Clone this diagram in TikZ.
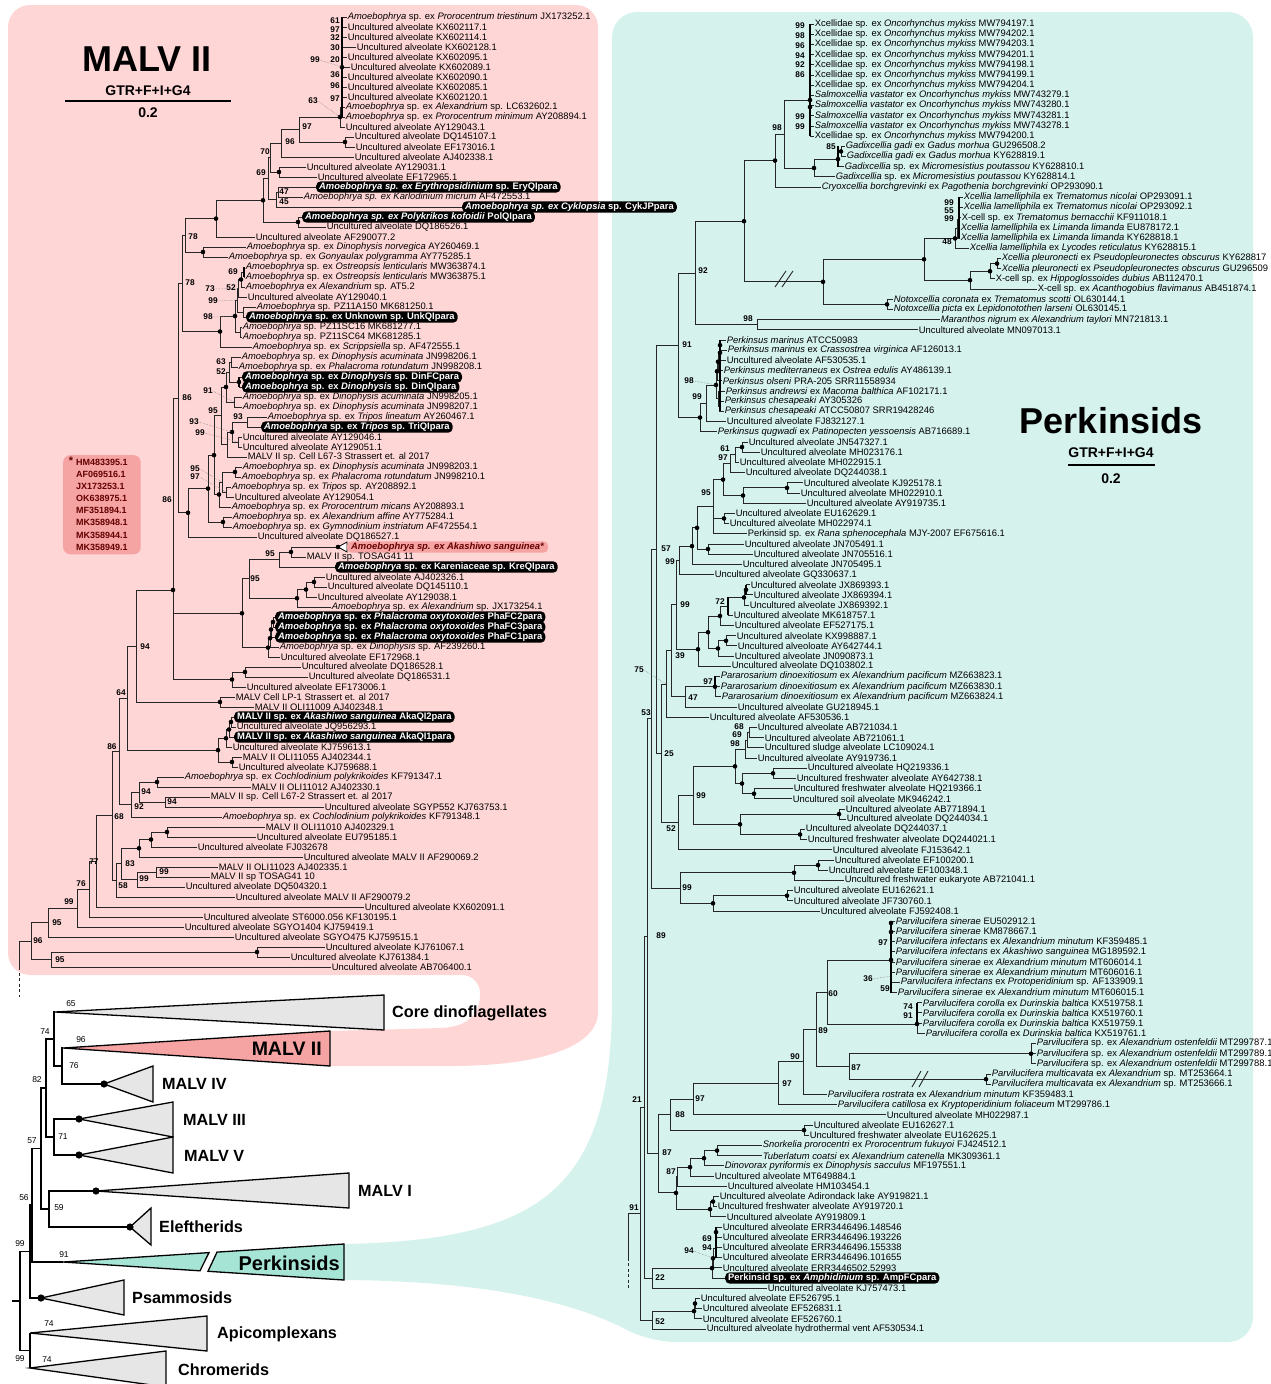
\documentclass[tikz,border=0pt]{standalone}
\usepackage{fontspec}
\setmainfont{Liberation Sans}
\usetikzlibrary{calc}
\definecolor{pinkbg}{RGB}{255,214,214}
\definecolor{tealbg}{RGB}{214,242,237}
\definecolor{salm}{RGB}{245,163,163}
\definecolor{tealtri}{RGB}{166,228,214}
\definecolor{graytri}{RGB}{230,230,230}
\definecolor{dred}{RGB}{100,0,0}
\newcounter{bsc}
\newcommand\UA{Uncultured alveolate}
\newcommand\Am{\textit{Amoebophrya}}
\newcommand\Xc[1]{Xcellidae sp. ex \textit{Oncorhynchus mykiss} #1}
\newcommand\Sv[1]{\textit{Salmoxcellia vastator} ex \textit{Oncorhynchus mykiss} #1}
\newcommand\Pd[1]{\textit{Pararosarium dinoexitiosum} ex \textit{Alexandrium pacificum} #1}
\newcommand\Pc[1]{\textit{Parvilucifera corolla} ex \textit{Durinskia baltica} #1}
\newcommand\Lf[3]{\coordinate (a#1) at (#2,{7+10*#1}); \node[lf] (a#1t) at (a#1) {#3};}
\newcommand\Lh[3]{\coordinate (a#1) at (#2,{7+10*#1}); \node[hl] (a#1t) at (a#1) {#3};}
\newcommand\Rf[3]{\coordinate (b#1) at (#2,{13.805+10.195*#1}); \node[lf] (b#1t) at (b#1) {#3};}
\newcommand\Rh[3]{\coordinate (b#1) at (#2,{13.805+10.195*#1}); \node[hl] (b#1t) at (b#1) {#3};}
\newcommand\Nd[4]{\path let \p1=(#3), \p2=(#4) in coordinate (#1) at ({#2*1pt},{0.5*\y1+0.5*\y2});}
\newcommand\Ed[2]{\foreach \ch in {#2}{\draw[br] (#1) |- (\ch);}}
\newcommand\Edc[2]{\foreach \ch in {#2}{\draw[br2] (#1) |- (\ch);}}
\newcommand\Tn[4]{\Nd{#1}{#2}{#3}{#4}\Ed{#1}{#3,#4}}
\newcommand\Dt[1]{\foreach \ch in {#1}{\fill[black] (\ch) circle (2.3pt);}}
\newcommand\Dc[1]{\foreach \ch in {#1}{\fill[black] (\ch) circle (3.6pt);}}
\newcommand\Bl[3]{\stepcounter{bsc}\node[bsl] (bs\arabic{bsc}) at (#1,#2) {#3};}
\newcommand\Sl[3]{\stepcounter{bsc}\node[sl] (sl\arabic{bsc}) at (#1,#2) {#3};}
\begin{document}
\begin{tikzpicture}[x=1pt,y=-1pt,
 lf/.style={anchor=west,inner sep=0.6pt,font=\fontsize{9.4}{10}\selectfont},
 hl/.style={anchor=west,inner xsep=3pt,inner ysep=1.3pt,fill=black,text=white,rounded corners=4.5pt,font=\bfseries\fontsize{9.4}{10}\selectfont},
 akab/.style={anchor=west,inner xsep=4pt,inner ysep=1.3pt,fill=salm,text=dred,rounded corners=4.5pt,font=\bfseries\fontsize{9.4}{10}\selectfont},
 br/.style={draw=black!85,line width=0.9pt},
 br2/.style={draw=black,line width=1.3pt},
 thk/.style={draw=black,line width=1.7pt},
 bsl/.style={inner sep=0pt,font=\bfseries\fontsize{8.3}{9}\selectfont},
 lead/.style={draw=black!50,densely dotted,line width=0.5pt},
 tri/.style={draw=black,line width=1.3pt,line join=miter},
 cl/.style={anchor=west,inner sep=0pt,font=\bfseries\fontsize{16.2}{17}\selectfont},
 sl/.style={inner sep=0pt,font=\fontsize{8.5}{9}\selectfont}]
\useasboundingbox (0,0) rectangle (1271,1384);
% ---------- backgrounds
\fill[pinkbg] (300,5) [rounded corners=22pt] -- (598,5) -- (598,990) [sharp corners] .. controls (598,1045) and (545,1066) .. (450,1066) -- (330,1066) -- (330,1031) -- (440,1028) .. controls (472,1027) and (480,1010) .. (480,995) [rounded corners=18pt] -- (480,975) [rounded corners=22pt] -- (8,975) -- (8,5) -- cycle;
\fill[tealbg] (344,1244) .. controls (540,1240) and (612,1190) .. (612,1000) [rounded corners=25pt] -- (612,12) -- (1253,12) -- (1253,1342) -- (650,1342) [sharp corners] .. controls (570,1300) and (480,1281) .. (344,1280) -- cycle;
% ---------- titles
\node[font=\bfseries\fontsize{36}{36}\selectfont,inner sep=0] (tL) at (147,59) {MALV II};
\node[font=\bfseries\fontsize{14}{14}\selectfont,inner sep=0] (gL) at (148,91) {GTR+F+I+G4};
\draw[line width=1.8pt] (65,101) -- (231,101);
\node[font=\bfseries\fontsize{14}{14}\selectfont,inner sep=0] (sL) at (148,113) {0.2};
\node[font=\bfseries\fontsize{36}{36}\selectfont,inner sep=0] (tR) at (1111,421) {Perkinsids};
\node[font=\bfseries\fontsize{14}{14}\selectfont,inner sep=0] (gR) at (1111,453) {GTR+F+I+G4};
\draw[line width=1.8pt] (1068,465) -- (1155,465);
\node[font=\bfseries\fontsize{14}{14}\selectfont,inner sep=0] (sR) at (1111,479) {0.2};
% ---------- asterisk box
\node[anchor=north west,fill=salm,rounded corners=7pt,align=left,inner xsep=13pt,inner ysep=4pt,text=dred,font=\bfseries\fontsize{9}{12.1}\selectfont] (astbox) at (63,455) {HM483395.1\\AF069516.1\\JX173253.1\\OK638975.1\\MF351894.1\\MK358948.1\\MK358944.1\\MK358949.1};
\node[font=\bfseries\fontsize{11}{11}\selectfont,text=dred,inner sep=0] (astr) at (71,461) {*};
% ================= LEFT TREE leaves
\Lf{1}{347}{\Am{} sp. ex \textit{Prorocentrum triestinum} JX173252.1}
\Lf{2}{347}{\UA{} KX602117.1}
\Lf{3}{347}{\UA{} KX602114.1}
\Lf{4}{356}{\UA{} KX602128.1}
\Lf{5}{347}{\UA{} KX602095.1}
\Lf{6}{350}{\UA{} KX602089.1}
\Lf{7}{347}{\UA{} KX602090.1}
\Lf{8}{347}{\UA{} KX602085.1}
\Lf{9}{347}{\UA{} KX602120.1}
\Lf{10}{345}{\Am{} sp. ex \textit{Alexandrium} sp. LC632602.1}
\Lf{11}{345}{\Am{} sp. ex \textit{Prorocentrum minimum} AY208894.1}
\Lf{12}{345}{\UA{} AY129043.1}
\Lf{13}{354}{\UA{} DQ145107.1}
\Lf{14}{355}{\UA{} EF173016.1}
\Lf{15}{354}{\UA{} AJ402338.1}
\Lf{16}{306}{\UA{} AY129031.1}
\Lf{17}{317}{\UA{} EF172965.1}
\Lh{18}{316}{\textit{Amoebophrya sp. ex Erythropsidinium} sp. EryQIpara}
\Lf{19}{303}{\textit{Amoebophrya sp. ex Karlodinium micrum} AF472553.1}
\Lh{20}{462}{\textit{Amoebophrya sp. ex Cyklopsia} sp. CykJPpara}
\Lh{21}{302}{\textit{Amoebophrya sp. ex Polykrikos kofoidii} PolQIpara}
\Lf{22}{326}{\UA{} DQ186526.1}
\Lf{23}{255}{\UA{} AF290077.2}
\Lf{24}{246}{\Am{} sp. ex \textit{Dinophysis norvegica} AY260469.1}
\Lf{25}{228}{\Am{} sp. ex \textit{Gonyaulax polygramma} AY775285.1}
\Lf{26}{245}{\Am{} sp. ex \textit{Ostreopsis lenticularis} MW363874.1}
\Lf{27}{245}{\Am{} sp. ex \textit{Ostreopsis lenticularis} MW363875.1}
\Lf{28}{245}{\Am{} ex \textit{Alexandrium} sp. AT5.2}
\Lf{29}{247}{\UA{} AY129040.1}
\Lf{30}{256}{\Am{} sp. PZ11A150 MK681250.1}
\Lh{31}{246}{\Am{} sp. ex Unknown sp. UnkQIpara}
\Lf{32}{242}{\Am{} sp. PZ11SC16 MK681277.1}
\Lf{33}{242}{\Am{} sp. PZ11SC64 MK681285.1}
\Lf{34}{252}{\Am{} sp. ex \textit{Scrippsiella} sp. AF472555.1}
\Lf{35}{241}{\Am{} sp. ex \textit{Dinophysis acuminata} JN998206.1}
\Lf{36}{238}{\Am{} sp. ex \textit{Phalacroma rotundatum} JN998208.1}
\Lh{37}{242}{\Am{} sp. ex \textit{Dinophysis} sp. DinFCpara}
\Lh{38}{242}{\Am{} sp. ex \textit{Dinophysis} sp. DinQIpara}
\Lf{39}{242}{\Am{} sp. ex \textit{Dinophysis acuminata} JN998205.1}
\Lf{40}{242}{\Am{} sp. ex \textit{Dinophysis acuminata} JN998207.1}
\Lf{41}{267}{\Am{} sp. ex \textit{Tripos lineatum} AY260467.1}
\Lh{42}{261}{\Am{} sp. ex \textit{Tripos} sp. TriQIpara}
\Lf{43}{242}{\UA{} AY129046.1}
\Lf{44}{242}{\UA{} AY129051.1}
\Lf{45}{247}{MALV II sp. Cell L67-3 Strassert et. al 2017}
\Lf{46}{242}{\Am{} sp. ex \textit{Dinophysis acuminata} JN998203.1}
\Lf{47}{241}{\Am{} sp. ex \textit{Phalacroma rotundatum} JN998210.1}
\Lf{48}{231}{\Am{} sp. ex \textit{Tripos} sp. AY208892.1}
\Lf{49}{234}{\UA{} AY129054.1}
\Lf{50}{231}{\Am{} sp. ex \textit{Prorocentrum micans} AY208893.1}
\Lf{51}{232}{\Am{} sp. ex \textit{Alexandrium affine} AY775284.1}
\Lf{52}{232}{\Am{} sp. ex \textit{Gymnodinium instriatum} AF472554.1}
\Lf{53}{257}{\UA{} DQ186527.1}
\coordinate (a54) at (338,547);
\coordinate (a54b) at (347,547);
\filldraw[fill=white,draw=black,line width=0.8pt] (a54) -- (347,542) -- (347,552) -- cycle;
\node[akab] (a54t) at (a54b) {\textit{Amoebophrya sp. ex Akashiwo sanguinea*}};
\Lf{55}{306}{MALV II sp. TOSAG41 11}
\Lh{56}{335}{\Am{} sp. ex Kareniaceae sp. KreQIpara}
\Lf{57}{325}{\UA{} AJ402326.1}
\Lf{58}{327}{\UA{} DQ145110.1}
\Lf{59}{317}{\UA{} AY129038.1}
\Lf{60}{331}{\Am{} sp. ex \textit{Alexandrium} sp. JX173254.1}
\Lh{61}{275}{\Am{} sp. ex \textit{Phalacroma oxytoxoides} PhaFC2para}
\Lh{62}{275}{\Am{} sp. ex \textit{Phalacroma oxytoxoides} PhaFC3para}
\Lh{63}{275}{\Am{} sp. ex \textit{Phalacroma oxytoxoides} PhaFC1para}
\Lf{64}{279}{\Am{} sp. ex \textit{Dinophysis} sp. AF239260.1}
\Lf{65}{280}{\UA{} EF172968.1}
\Lf{66}{301}{\UA{} DQ186528.1}
\Lf{67}{308}{\UA{} DQ186531.1}
\Lf{68}{246}{\UA{} EF173006.1}
\Lf{69}{235}{MALV Cell LP-1 Strassert et. al 2017}
\Lf{70}{254}{MALV II OLI11009 AJ402348.1}
\Lh{71}{234}{MALV II sp. ex \textit{Akashiwo sanguinea} AkaQI2para}
\Lf{72}{236}{\UA{} JQ956293.1}
\Lh{73}{234}{MALV II sp. ex \textit{Akashiwo sanguinea} AkaQI1para}
\Lf{74}{232}{\UA{} KJ759613.1}
\Lf{75}{242}{MALV II OLI11055 AJ402344.1}
\Lf{76}{238}{\UA{} KJ759688.1}
\Lf{77}{184}{\Am{} sp. ex \textit{Cochlodinium polykrikoides} KF791347.1}
\Lf{78}{251}{MALV II OLI11012 AJ402330.1}
\Lf{79}{210}{MALV II sp. Cell L67-2 Strassert et. al 2017}
\Lf{80}{324}{\UA{} SGYP552 KJ763753.1}
\Lf{81}{222}{\Am{} sp. ex \textit{Cochlodinium polykrikoides} KF791348.1}
\Lf{82}{265}{MALV II OLI11010 AJ402329.1}
\Lf{83}{256}{\UA{} EU795185.1}
\Lf{84}{197}{\UA{} FJ032678}
\Lf{85}{303}{\UA{} MALV II AF290069.2}
\Lf{86}{218}{MALV II OLI11023 AJ402335.1}
\Lf{87}{210}{MALV II sp TOSAG41 10}
\Lf{88}{185}{\UA{} DQ504320.1}
\Lf{89}{235}{\UA{} MALV II AF290079.2}
\Lf{90}{364}{\UA{} KX602091.1}
\Lf{91}{203}{\UA{} ST6000.056 KF130195.1}
\Lf{92}{184}{\UA{} SGYO1404 KJ759419.1}
\Lf{93}{234}{\UA{} SGYO475 KJ759515.1}
\Lf{94}{325}{\UA{} KJ761067.1}
\Lf{95}{290}{\UA{} KJ761384.1}
\Lf{96}{331}{\UA{} AB706400.1}
% ---------- left internal nodes
\Tn{t1}{342}{a1}{a2}
\Tn{t2}{342}{t1}{a3}
\Tn{t3}{342}{t2}{a4}
\Tn{t4}{342}{t3}{a5}
\Tn{t5}{342}{t4}{a6}
\Tn{t6}{342}{t5}{a7}
\Tn{t7}{342}{t6}{a8}
\Tn{t8}{342}{t7}{a9}
\Tn{t9}{342}{t8}{a10}
\Tn{t10}{342}{t9}{a11}
\Tn{t11}{340}{t10}{a12}
\Tn{n13}{345}{a13}{a14}
\Tn{n97}{299}{t11}{n13}
\Tn{n96}{281}{n97}{a15}
\Tn{n1617}{279}{a16}{a17}
\Tn{n70}{270}{n96}{n1617}
\Tn{n47}{278}{a18}{a19}
\Tn{n45}{276}{n47}{a20}
\Tn{n69}{268}{n70}{n45}
\Tn{nPol}{298}{a21}{a22}
\Tn{nD263}{263}{n69}{nPol}
\Tn{n216}{216}{nD263}{a23}
\Tn{nDN}{203}{a24}{a25}
\Tn{n78a}{185}{n216}{nDN}
\Tn{nOst}{244}{a26}{a27}
\Tn{n52}{241}{nOst}{a28}
\Tn{n73}{238}{n52}{a29}
\Tn{n3031}{243}{a30}{a31}
\Tn{n99o}{237}{n73}{n3031}
\Tn{nPZ}{240}{a32}{a33}
\Tn{n98o}{235}{n99o}{nPZ}
\Tn{n220}{220}{n98o}{a34}
\Tn{n78b}{182}{n78a}{n220}
\Tn{nDinA}{231}{a35}{a36}
\Tn{nDinB}{239}{a37}{a38}
\Tn{n63}{229}{nDinA}{nDinB}
\Tn{n3940}{234}{a39}{a40}
\Tn{n91L}{226}{n63}{n3940}
\Tn{n93}{247}{a41}{a42}
\Tn{n4344}{238}{a43}{a44}
\Tn{nTri}{232}{n93}{n4344}
\Tn{n99b}{227}{nTri}{a45}
\Tn{n95a}{221}{n91L}{n99b}
\Tn{n4647}{235}{a46}{a47}
\Tn{n4849}{226}{a48}{a49}
\Tn{n95b}{222}{n4647}{n4849}
\Tn{n97b}{219}{n95b}{a50}
\Tn{n215}{214}{n95a}{n97b}
\Tn{n5152}{223}{a51}{a52}
\Tn{n208}{208}{n215}{n5152}
\Tn{n188}{188}{n208}{a53}
\Tn{Q}{178}{n78b}{n188}
\Tn{n283}{291}{a54}{a55}
\Tn{n95c}{279}{n283}{a56}
\Tn{n305}{314}{a57}{a58}
\Tn{n297}{306}{n305}{a59}
\Tn{n288}{297}{n297}{a60}
\Tn{n95d}{249}{n95c}{n288}
\Tn{nPa}{273}{a61}{a62}
\Tn{nPb}{271}{nPa}{a63}
\Tn{nPc}{270}{nPb}{a64}
\Tn{nPd}{268}{nPc}{a65}
\Tn{nK}{242}{n95d}{nPd}
\Tn{n6667}{245}{a66}{a67}
\Tn{nE}{232}{n6667}{a68}
\coordinate (n172) at (173,590); \Ed{n172}{Q,nK,nE}
\Tn{nLP}{220}{a69}{a70}
\Tn{n94}{136}{n172}{nLP}
\Tn{n7172}{231}{a71}{a72}
\Tn{n73x}{229}{n7172}{a73}
\Tn{n74x}{226}{n73x}{a74}
\Tn{n7576}{232}{a75}{a76}
\Tn{nAka}{218}{n74x}{n7576}
\Tn{n64}{127}{n94}{nAka}
\Tn{nCoch}{157}{a77}{a78}
\Tn{n94c}{165}{a79}{a80}
\Tn{n94b}{139}{nCoch}{n94c}
\Tn{n92}{131}{n94b}{a81}
\Tn{n86c}{119}{n64}{n92}
\Tn{n8283}{167}{a82}{a83}
\Tn{n84x}{151}{n8283}{a84}
\Tn{n85x}{139}{n84x}{a85}
\Tn{n8687}{156}{a86}{a87}
\Tn{n99d}{137}{n8687}{a88}
\Tn{n83}{121}{n85x}{n99d}
\Tn{n58}{116}{n83}{a89}
\Tn{n68}{112}{n86c}{n58}
\Tn{n77}{96}{n68}{a90}
\Tn{n76}{89}{n77}{a91}
\Tn{n99e}{77}{n76}{a92}
\Tn{n95e}{48}{n99e}{a93}
\Tn{nKJ}{257}{a94}{a95}
\Tn{n95f}{51}{nKJ}{a96}
\Tn{n96}{31}{n95e}{n95f}
\draw[br] (n96) -- ++(-12,0) coordinate (lstem) -- ++(0,26) coordinate (lstem2);
\draw[br,dash pattern=on 3pt off 2.5pt] (lstem2) -- ++(0,30);
\draw[thk] (t1 |- a1) -- (t1 |- a11);
\draw[thk] (nOst |- a26) -- (nOst |- a27);
\draw[thk] (nDinB |- a37) -- (nDinB |- a38);
\Dt{t6,t11,n13,n1617,nD263,nPol,n216,nDN,n52,n98o,n220,nDinB,n91L,nTri,n4647,n97b,n215,n5152,n208,n188,a54,n283,n305,n297,n288,nPa,nPb,nPc,nPd,nK,n6667,nE,n172,nLP,n7172,n73x,n74x,n7576,nAka,nCoch,n8283,n84x,n85x,nKJ}
% left labels
\Bl{335}{21}{61}\Bl{335}{29.5}{97}\Bl{335}{38}{32}\Bl{335}{48}{30}\Bl{335}{60}{20}\Bl{335}{75}{36}\Bl{335}{86}{96}\Bl{335}{99}{97}
\node[bsl] (lb99a) at (315,60) {99}; \draw[lead] (lb99a.east) -- (t6);
\node[bsl] (lb63a) at (313,101) {63}; \draw[lead] (lb63a.east) -- (t11);
\Bl{307}{127}{97}\Bl{290}{142}{96}\Bl{265}{152}{70}\Bl{261}{173}{69}\Bl{284}{192}{47}\Bl{284}{202}{45}\Bl{193}{237}{78}
\Bl{233}{272}{69}\Bl{190}{283}{78}\Bl{231}{288}{52}
\node[bsl] (lb73) at (210,289) {73}; \draw[lead] (lb73.east) -- (n73);
\node[bsl] (lb99o) at (213,301) {99}; \draw[lead] (lb99o.east) -- (n99o);
\node[bsl] (lb98o) at (208,317) {98}; \draw[lead] (lb98o.east) -- (n98o);
\Bl{221}{362}{63}\Bl{221}{372}{52}
\node[bsl] (lb91) at (208,391) {91}; \draw[lead] (lb91.east) -- (n3940);
\Bl{187}{398}{86}\Bl{213}{411}{95}\Bl{238}{417}{93}
\node[bsl] (lb93) at (194,422) {93}; \draw[lead] (lb93.east) -- (nTri);
\node[bsl] (lb99b) at (200,433) {99}; \draw[lead] (lb99b.east) -- (n4344);
\node[bsl] (lb95b) at (195,469) {95}; \draw[lead] (lb95b.east) -- (n95b);
\node[bsl] (lb97b) at (195,477) {97}; \draw[lead] (lb97b.east) -- (n4849);
\Bl{167}{500}{86}\Bl{270}{554}{95}\Bl{255}{579}{95}\Bl{145}{647}{94}\Bl{121}{693}{64}\Bl{112}{747}{86}
\Bl{146}{792}{94}\Bl{172}{802}{94}\Bl{139}{807}{92}\Bl{119}{817}{68}\Bl{94}{862}{77}\Bl{130}{864}{83}
\Bl{164}{872}{99}\Bl{144}{879}{99}\Bl{81}{884}{76}\Bl{123}{886}{58}\Bl{69}{902}{99}\Bl{57}{923}{95}
\Bl{38}{941}{96}\Bl{60}{960}{95}
% ================= RIGHT TREE leaves
\Rf{1}{814}{\Xc{MW794197.1}}
\Rf{2}{814}{\Xc{MW794202.1}}
\Rf{3}{814}{\Xc{MW794203.1}}
\Rf{4}{814}{\Xc{MW794201.1}}
\Rf{5}{814}{\Xc{MW794198.1}}
\Rf{6}{814}{\Xc{MW794199.1}}
\Rf{7}{814}{\Xc{MW794204.1}}
\Rf{8}{814}{\Sv{MW743279.1}}
\Rf{9}{814}{\Sv{MW743280.1}}
\Rf{10}{814}{\Sv{MW743281.1}}
\Rf{11}{814}{\Sv{MW743278.1}}
\Rf{12}{814}{\Xc{MW794200.1}}
\Rf{13}{845}{\textit{Gadixcellia gadi} ex \textit{Gadus morhua} GU296508.2}
\Rf{14}{846}{\textit{Gadixcellia gadi} ex \textit{Gadus morhua} KY628819.1}
\Rf{15}{844}{\textit{Gadixcellia} sp. ex \textit{Micromesistius poutassou} KY628810.1}
\Rf{16}{835}{\textit{Gadixcellia} sp. ex \textit{Micromesistius poutassou} KY628814.1}
\Rf{17}{821}{\textit{Cryoxcellia borchgrevinki} ex \textit{Pagothenia borchgrevinki} OP293090.1}
\Rf{18}{963}{\textit{Xcellia lamelliphila} ex \textit{Trematomus nicolai} OP293091.1}
\Rf{19}{963}{\textit{Xcellia lamelliphila} ex \textit{Trematomus nicolai} OP293092.1}
\Rf{20}{961}{X-cell sp. ex \textit{Trematomus bernacchii} KF911018.1}
\Rf{21}{960}{\textit{Xcellia lamelliphila} ex \textit{Limanda limanda} EU878172.1}
\Rf{22}{960}{\textit{Xcellia lamelliphila} ex \textit{Limanda limanda} KY628818.1}
\Rf{23}{969}{\textit{Xcellia lamelliphila} ex \textit{Lycodes reticulatus} KY628815.1}
\Rf{24}{1001}{\textit{Xcellia pleuronecti} ex \textit{Pseudopleuronectes obscurus} KY628817}
\Rf{25}{1001}{\textit{Xcellia pleuronecti} ex \textit{Pseudopleuronectes obscurus} GU296509}
\Rf{26}{995}{X-cell sp. ex \textit{Hippoglossoides dubius} AB112470.1}
\Rf{27}{1037}{X-cell sp. ex \textit{Acanthogobius flavimanus} AB451874.1}
\Rf{28}{893}{\textit{Notoxcellia coronata} ex \textit{Trematomus scotti} OL630144.1}
\Rf{29}{893}{\textit{Notoxcellia picta} ex \textit{Lepidonotothen larseni} OL630145.1}
\Rf{30}{940}{\textit{Maranthos nigrum} ex \textit{Alexandrium taylori} MN721813.1}
\Rf{31}{918}{\UA{} MN097013.1}
\Rf{32}{726}{\textit{Perkinsus marinus} ATCC50983}
\Rf{33}{727}{\textit{Perkinsus marinus} ex \textit{Crassostrea virginica} AF126013.1}
\Rf{34}{726}{\UA{} AF530535.1}
\Rf{35}{723}{\textit{Perkinsus mediterraneus} ex \textit{Ostrea edulis} AY486139.1}
\Rf{36}{722}{\textit{Perkinsus olseni} PRA-205 SRR11558934}
\Rf{37}{725}{\textit{Perkinsus andrewsi} ex \textit{Macoma balthica} AF102171.1}
\Rf{38}{724}{\textit{Perkinsus chesapeaki} AY305326}
\Rf{39}{724}{\textit{Perkinsus chesapeaki} ATCC50807 SRR19428246}
\Rf{40}{726}{\UA{} FJ832127.1}
\Rf{41}{717}{\textit{Perkinsus qugwadi} ex \textit{Patinopecten yessoensis} AB716689.1}
\Rf{42}{748}{\UA{} JN547327.1}
\Rf{43}{760}{\UA{} MH023176.1}
\Rf{44}{739}{\UA{} MH022915.1}
\Rf{45}{745}{\UA{} DQ244038.1}
\Rf{46}{803}{\UA{} KJ925178.1}
\Rf{47}{800}{\UA{} MH022910.1}
\Rf{48}{806}{\UA{} AY919735.1}
\Rf{49}{735}{\UA{} EU162629.1}
\Rf{50}{729}{\UA{} MH022974.1}
\Rf{51}{747}{Perkinsid sp. ex \textit{Rana sphenocephala} MJY-2007 EF675616.1}
\Rf{52}{744}{\UA{} JN705491.1}
\Rf{53}{753}{\UA{} JN705516.1}
\Rf{54}{742}{\UA{} JN705495.1}
\Rf{55}{714}{\UA{} GQ330637.1}
\Rf{56}{750}{\UA{} JX869393.1}
\Rf{57}{753}{\UA{} JX869394.1}
\Rf{58}{749}{\UA{} JX869392.1}
\Rf{59}{733}{\UA{} MK618757.1}
\Rf{60}{734}{\UA{} EF527175.1}
\Rf{61}{736}{\UA{} KX998887.1}
\Rf{62}{737}{Uncultured alveoloate AY642744.1}
\Rf{63}{734}{\UA{} JN090873.1}
\Rf{64}{731}{\UA{} DQ103802.1}
\Rf{65}{720}{\Pd{MZ663823.1}}
\Rf{66}{720}{\Pd{MZ663830.1}}
\Rf{67}{721}{\Pd{MZ663824.1}}
\Rf{68}{737}{\UA{} GU218945.1}
\Rf{69}{709}{\UA{} AF530536.1}
\Rf{70}{757}{\UA{} AB721034.1}
\Rf{71}{764}{\UA{} AB721061.1}
\Rf{72}{764}{Uncultured sludge alveolate LC109024.1}
\Rf{73}{757}{\UA{} AY919736.1}
\Rf{74}{807}{\UA{} HQ219336.1}
\Rf{75}{796}{Uncultured freshwater alveolate AY642738.1}
\Rf{76}{793}{Uncultured freshwater alveolate HQ219366.1}
\Rf{77}{792}{Uncultured soil alveolate MK946242.1}
\Rf{78}{845}{\UA{} AB771894.1}
\Rf{79}{846}{\UA{} DQ244034.1}
\Rf{80}{805}{\UA{} DQ244037.1}
\Rf{81}{807}{Uncultured freshwater alveolate DQ244021.1}
\Rf{82}{832}{\UA{} FJ153642.1}
\Rf{83}{834}{\UA{} EF100200.1}
\Rf{84}{828}{\UA{} EF100348.1}
\Rf{85}{844}{Uncultured freshwater eukaryote AB721041.1}
\Rf{86}{793}{\UA{} EU162621.1}
\Rf{87}{793}{\UA{} JF730760.1}
\Rf{88}{820}{\UA{} FJ592408.1}
\Rf{89}{895}{\textit{Parvilucifera sinerae} EU502912.1}
\Rf{90}{895}{\textit{Parvilucifera sinerae} KM878667.1}
\Rf{91}{895}{\textit{Parvilucifera infectans} ex \textit{Alexandrium minutum} KF359485.1}
\Rf{92}{895}{\textit{Parvilucifera infectans} ex \textit{Akashiwo sanguinea} MG189592.1}
\Rf{93}{895}{\textit{Parvilucifera sinerae} ex \textit{Alexandrium minutum} MT606014.1}
\Rf{94}{895}{\textit{Parvilucifera sinerae} ex \textit{Alexandrium minutum} MT606016.1}
\Rf{95}{900}{\textit{Parvilucifera infectans} ex \textit{Protoperidinium} sp. AF133909.1}
\Rf{96}{897}{\textit{Parvilucifera sinerae} ex \textit{Alexandrium minutum} MT606015.1}
\Rf{97}{922}{\Pc{KX519758.1}}
\Rf{98}{922}{\Pc{KX519760.1}}
\Rf{99}{922}{\Pc{KX519759.1}}
\Rf{100}{925}{\Pc{KX519761.1}}
\Rf{101}{1036}{\textit{Parvilucifera} sp. ex \textit{Alexandrium ostenfeldii} MT299787.1}
\Rf{102}{1036}{\textit{Parvilucifera} sp. ex \textit{Alexandrium ostenfeldii} MT299789.1}
\Rf{103}{1036}{\textit{Parvilucifera} sp. ex \textit{Alexandrium ostenfeldii} MT299788.1}
\Rf{104}{991}{\textit{Parvilucifera multicavata} ex \textit{Alexandrium} sp. MT253664.1}
\Rf{105}{991}{\textit{Parvilucifera multicavata} ex \textit{Alexandrium} sp. MT253666.1}
\Rf{106}{827}{\textit{Parvilucifera rostrata} ex \textit{Alexandrium minutum} KF359483.1}
\Rf{107}{837}{\textit{Parvilucifera catillosa} ex \textit{Kryptoperidinium foliaceum} MT299786.1}
\Rf{108}{886}{\UA{} MH022987.1}
\Rf{109}{813}{\UA{} EU162627.1}
\Rf{110}{809}{Uncultured freshwater alveolate EU162625.1}
\Rf{111}{762}{\textit{Snorkelia prorocentri} ex \textit{Prorocentrum fukuyoi} FJ424512.1}
\Rf{112}{762}{\textit{Tuberlatum coatsi} ex \textit{Alexandrium catenella} MK309361.1}
\Rf{113}{724}{\textit{Dinovorax pyriformis} ex \textit{Dinophysis sacculus} MF197551.1}
\Rf{114}{714}{\UA{} MT649884.1}
\Rf{115}{727}{\UA{} HM103454.1}
\Rf{116}{719}{\UA{} Adirondack lake AY919821.1}
\Rf{117}{717}{Uncultured freshwater alveolate AY919720.1}
\Rf{118}{726}{\UA{} AY919809.1}
\Rf{119}{722}{\UA{} ERR3446496.148546}
\Rf{120}{722}{\UA{} ERR3446496.193226}
\Rf{121}{722}{\UA{} ERR3446496.155338}
\Rf{122}{722}{\UA{} ERR3446496.101655}
\Rf{123}{722}{\UA{} ERR3446502.52993}
\Rh{124}{725}{Perkinsid sp. ex \textit{Amphidinium} sp. AmpFCpara}
\Rf{125}{767}{\UA{} KJ757473.1}
\Rf{126}{700}{\UA{} EF526795.1}
\Rf{127}{702}{\UA{} EF526831.1}
\Rf{128}{702}{\UA{} EF526760.1}
\Rf{129}{706}{\UA{} hydrothermal vent AF530534.1}
% ---------- right internal nodes
\coordinate (rXc) at (810,100); \coordinate (rXc2) at (810,107);
\Ed{rXc}{b1,b2,b3,b4,b5,b6,b7,b8,b9,b10,b11,b12}
\Tn{rGad3}{841}{b13}{b14}
\Tn{rGad2}{838}{rGad3}{b15}
\Tn{rGad}{814}{rGad2}{b16}
\Tn{r98}{784}{rXc}{rGad}
\Tn{rCry}{775}{r98}{b17}
\Tn{rXa}{959}{b18}{b19}
\Tn{rXb}{959}{rXa}{b20}
\Tn{rXcc}{958}{rXb}{b21}
\Tn{rXd}{957}{rXcc}{b22}
\Tn{rXe}{955}{rXd}{b23}
\Tn{rXP3}{997}{b24}{b25}
\Tn{rXP2}{990}{rXP3}{b26}
\Tn{rXP}{970}{rXP2}{b27}
\Tn{rXL}{924}{rXe}{rXP}
\Tn{rNoto}{887}{b28}{b29}
\Tn{rX2}{823}{rXL}{rNoto}
\Tn{r257}{744}{rCry}{rX2}
\Tn{r98b}{757}{b30}{b31}
\Tn{r92}{695}{r257}{r98b}
\Tn{p1}{720}{b32}{b33}
\Tn{p2}{720}{p1}{b34}
\Tn{p3}{718}{p2}{b35}
\Tn{p4}{717}{p3}{b36}
\Tn{p5a}{719}{b38}{b39}
\Tn{p5}{718}{b37}{p5a}
\Tn{p6}{716}{p4}{p5}
\Tn{rPk2}{706}{p6}{b40}
\Tn{r99p}{700}{rPk2}{b41}
\Tn{r91}{678}{r92}{r99p}
\Tn{r61}{742}{b42}{b43}
\Tn{r97}{735}{r61}{b44}
\Tn{r97b}{730}{r97}{b45}
\Tn{rKJ}{787}{b46}{b47}
\Tn{rKJ2}{743}{rKJ}{b48}
\Tn{r95x}{723}{r97b}{rKJ2}
\Tn{rEU}{724}{b49}{b50}
\Nd{r95}{713}{r95x}{b51}\Ed{r95}{r95x,rEU,b51}
\Tn{rJN}{708}{b52}{b53}
\Tn{r141}{697}{r95}{rJN}
\Tn{r128}{692}{r141}{b54}
\Tn{r99q}{679}{r128}{b55}
\Tn{rJXa}{746}{b56}{b57}
\Tn{rJXb}{744}{rJXa}{b58}
\Tn{r72}{728}{rJXb}{b59}
\Tn{rMK}{720}{r72}{b60}
\Tn{rKX}{726}{b61}{b62}
\Tn{rKX2}{718}{rKX}{b63}
\Tn{r211}{708}{rMK}{rKX2}
\Tn{r188}{698}{r211}{b64}
\Tn{r99r}{676}{r99q}{r188}
\Nd{rPara}{715}{b65}{b67}\Ed{rPara}{b65,b66,b67}
\Tn{r47}{685}{rPara}{b68}
\Tn{r39}{671}{r99r}{r47}
\Tn{r75}{666}{r39}{b69}
\Tn{rAB1}{749}{b70}{b71}
\Tn{rAB2}{747}{rAB1}{b72}
\Tn{rAB3}{745}{rAB2}{b73}
\Tn{rHQ}{773}{b74}{b75}
\Tn{rHQ2}{754}{b76}{b77}
\Tn{rHQ3}{742}{rHQ}{rHQ2}
\Tn{rAB4}{735}{rAB3}{rHQ3}
\Tn{rAB77}{839}{b78}{b79}
\Tn{rDQ}{800}{b80}{b81}
\Tn{rAB5}{740}{rAB77}{rDQ}
\Tn{r99s}{693}{rAB4}{rAB5}
\Tn{r52}{678}{r99s}{b82}
\Tn{r25}{661}{r75}{r52}
\Tn{r57}{656}{r91}{r25}
\Tn{rEFa}{818}{b83}{b84}
\Tn{rEF2}{794}{rEFa}{b85}
\Tn{rEU62}{787}{b86}{b87}
\Tn{rEU63}{713}{rEU62}{b88}
\Tn{r99t}{680}{rEF2}{rEU63}
\Tn{r53}{651}{r57}{r99t}
\coordinate (rPs) at (891,960); \coordinate (rPsA) at (891,923); \coordinate (rPsB) at (891,932); \coordinate (rPs36) at (891,976);
\Ed{rPs}{b89,b90,b91,b92,b93,b94,b95,b96}
\coordinate (rCor) at (917,1024);
\Ed{rCor}{b97,b98,b99,b100}
\Tn{r60}{827}{rPs}{rCor}
\Nd{rMT}{1031}{b101}{b103}\Ed{rMT}{b101,b102,b103}
\Tn{rMul}{986}{b104}{b105}
\Tn{r87b}{849}{rMT}{rMul}
\Tn{r89b}{816}{r60}{r87b}
\Tn{r97c}{803}{r89b}{b106}
\Tn{r90}{778}{r97c}{b107}
\Tn{rX97}{693}{r90}{b108}
\Tn{rEU627}{804}{b109}{b110}
\Tn{r88}{670}{rX97}{rEU627}
\Tn{rSno}{717}{b111}{b112}
\Tn{rSno2}{704}{rSno}{b113}
\Tn{rSno3}{690}{rSno2}{b114}
\Tn{r87c}{677}{rSno3}{b115}
\Tn{rAdi}{713}{b116}{b117}
\Tn{rAdi2}{710}{rAdi}{b118}
\Tn{r87d}{676}{r87c}{rAdi2}
\Tn{r87a}{658}{r88}{r87d}
\Tn{r89}{647}{r53}{r87a}
\Tn{e1}{716}{b119}{b120}
\Tn{e2}{716}{e1}{b121}
\Tn{e3}{715}{e2}{b122}
\Tn{e4}{713}{e3}{b123}
\Tn{e5}{712}{e4}{b124}
\Tn{r22}{652}{e5}{b125}
\Tn{r21}{644}{r89}{r22}
\Tn{rEF5a}{695}{b126}{b127}
\Tn{rEF5}{694}{rEF5a}{b128}
\Tn{r52b}{652}{rEF5}{b129}
\Tn{r91root}{640}{r21}{r52b}
\draw[br] (r91root) -- ++(-12,0) coordinate (rstem) -- ++(0,44) coordinate (rstem2);
\draw[br,dash pattern=on 3pt off 2.5pt] (rstem2) -- ++(0,32);
\draw[thk] (rXc |- b1) -- (rXc |- b12);
\draw[thk] (rGad2 |- b13) -- (rGad2 |- b15);
\draw[thk] (rXa |- b18) -- (rXa |- b22);
\draw[thk] (p1 |- b32) -- (p1 |- b39);
\draw[thk] (rPara |- b65) -- (rPara |- b66);
\draw[thk] (rPs |- b89) -- (rPs |- b96);
\draw[thk] (rCor |- b97) -- (rCor |- b99);
\draw[thk] (e1 |- b119) -- (e1 |- b122);
\draw[thk] (rJXa |- b56) -- (rJXa |- b57);
\draw[thk] (r72 |- b59) -- (r72 |- rJXb);
\draw[br] (775,287) -- (786,271); \draw[br] (782,287) -- (793,271);
\draw[br] (912,1087) -- (921,1071); \draw[br] (919,1087) -- (928,1071);
\Dt{rXc,rXc2,rGad3,rGad2,rGad,rCry,r257,rX2,rXL,rXe,rXP,rXP2,rXP3,rNoto,p1,p2,p3,p4,p6,r99p,r61,rKJ,rKJ2,r95x,rEU,rJN,r141,r128,rJXa,rJXb,rMK,rKX,rKX2,r211,r188,rPara,rAB4,rHQ,rHQ2,rHQ3,rAB77,rDQ,rAB5,rEFa,rEF2,rEU62,rEU63,rPs,rPsA,rPsB,rCor,rMT,rMul,rEU627,rSno,rSno2,rSno3,rAdi,rAdi2,r87d,e1,e4,e5,rEF5a,rEF5}
% right labels
\Bl{800}{26}{99}\Bl{800}{36}{98}\Bl{800}{46}{96}\Bl{800}{56}{94}\Bl{800}{65}{92}\Bl{800}{75}{86}\Bl{800}{117}{99}\Bl{800}{127}{99}
\Bl{777}{128}{98}\Bl{831}{147}{85}\Bl{949}{203}{99}\Bl{949}{211}{55}\Bl{949}{219}{99}\Bl{947}{242}{48}
\Bl{703}{271}{92}\Bl{748}{319}{98}\Bl{687}{345}{91}
\node[bsl] (lbp98) at (689,381) {98}; \draw[lead] (lbp98.east) -- (p6);
\Bl{697}{397}{99}\Bl{725}{449}{61}\Bl{723}{458}{97}\Bl{706}{493}{95}\Bl{666}{549}{57}\Bl{670}{562}{99}
\Bl{720}{602}{72}\Bl{685}{605}{99}\Bl{680}{656}{39}
\node[bsl] (lb75) at (639,670) {75}; \draw[lead] (lb75.east) -- (r75);
\Bl{708}{682}{97}\Bl{693}{698}{47}\Bl{646}{713}{53}\Bl{739}{727}{68}\Bl{737}{735}{69}\Bl{735}{744}{98}
\Bl{669}{754}{25}\Bl{701}{796}{99}\Bl{671}{829}{52}\Bl{687}{888}{99}\Bl{661}{936}{89}\Bl{883}{943}{97}
\node[bsl] (lb36) at (868,979) {36}; \draw[lead] (lb36.east) -- (rPs36);
\Bl{885}{989}{59}\Bl{833}{994}{60}\Bl{908}{1007}{74}\Bl{908}{1016}{91}\Bl{823}{1031}{89}\Bl{795}{1057}{90}
\Bl{856}{1068}{87}\Bl{787}{1084}{97}\Bl{700}{1099}{97}\Bl{637}{1100}{21}\Bl{680}{1115}{88}\Bl{667}{1153}{87}
\Bl{671}{1172}{87}\Bl{634}{1208}{91}\Bl{707}{1239}{69}\Bl{707}{1248}{94}
\node[bsl] (lbe94) at (689,1251) {94}; \draw[lead] (lbe94.east) -- (e4);
\Bl{660}{1278}{22}\Bl{660}{1322}{52}
% ================= COLLAPSED TREE
\coordinate (cCore) at (55,1012);
\coordinate (cM2) at (63,1048);
\coordinate (cM4) at (104,1084);
\coordinate (cM3) at (79,1119);
\coordinate (cM5) at (79,1155);
\coordinate (cM1) at (96,1191);
\coordinate (cEl) at (130,1227);
\coordinate (cPk) at (63,1262);
\coordinate (cPs) at (41,1298);
\coordinate (cAp) at (30,1333);
\coordinate (cCh) at (30,1368);
\filldraw[tri,fill=graytri] (cCore) -- (384,995) -- (384,1030) -- cycle;
\filldraw[tri,fill=salm] (cM2) -- (330,1031) -- (330,1066) -- cycle;
\filldraw[tri,fill=graytri] (cM4) -- (153,1066) -- (153,1102) -- cycle;
\filldraw[tri,fill=graytri] (cM3) -- (173,1102) -- (173,1137) -- cycle;
\filldraw[tri,fill=graytri] (cM5) -- (173,1137) -- (173,1173) -- cycle;
\filldraw[tri,fill=graytri] (cM1) -- (349,1173) -- (349,1208) -- cycle;
\filldraw[tri,fill=graytri] (cEl) -- (151,1208) -- (151,1245) -- cycle;
\filldraw[tri,fill=tealtri] (cPk) -- (209,1252.6) -- (200,1270.8) -- cycle;
\filldraw[tri,fill=tealtri] (217,1252.1) -- (344,1244) -- (344,1280) -- (208,1271.3) -- cycle;
\filldraw[tri,fill=graytri] (cPs) -- (124,1280) -- (124,1315) -- cycle;
\filldraw[tri,fill=graytri] (cAp) -- (207,1316) -- (207,1351) -- cycle;
\filldraw[tri,fill=graytri] (cCh) -- (166,1351) -- (166,1387) -- cycle;
\coordinate (c76) at (62,1066);
\coordinate (c74) at (54,1039);
\coordinate (c71) at (54,1137);
\coordinate (c82) at (46,1088);
\coordinate (c59) at (49,1209);
\coordinate (c57) at (41,1148.5);
\coordinate (c56) at (32,1205);
\coordinate (c99t) at (30,1251.5);
\coordinate (c99b) at (30,1350.5);
\coordinate (croot) at (20,1301);
\Edc{c76}{cM2,cM4}
\Edc{c74}{cCore,c76}
\Edc{c71}{cM3,cM5}
\Edc{c82}{c74,c71}
\Edc{c59}{cM1,cEl}
\Edc{c57}{c82,c59}
\Edc{c56}{c57,cPk}
\Edc{c99t}{c56,cPs}
\Edc{c99b}{cAp,cCh}
\Edc{croot}{c99t,c99b}
\draw[br2] (croot) -- ++(-8,0) coordinate (croot0);
\Dc{cM4,cM3,cM5,cM1,cEl,cPs}
\node[cl] (lCore) at (392,1013) {Core dinoflagellates};
\node[font=\bfseries\fontsize{19.5}{20}\selectfont,anchor=east,inner sep=0] (lM2) at (322,1049) {MALV II};
\node[cl] (lM4) at (162,1084) {MALV IV};
\node[cl] (lM3) at (183,1120) {MALV III};
\node[cl] (lM5) at (184,1156) {MALV V};
\node[cl] (lM1) at (358,1191) {MALV I};
\node[cl] (lEl) at (159,1227) {Eleftherids};
\node[font=\bfseries\fontsize{20}{20}\selectfont,anchor=east,inner sep=0] (lPk) at (340,1263) {Perkinsids};
\node[cl] (lPs) at (132,1298) {Psammosids};
\node[cl] (lAp) at (217,1334) {Apicomplexans};
\node[cl] (lCh) at (178,1370) {Chromerids};
\Sl{71}{1004}{65}\Sl{81}{1040}{96}\Sl{45}{1032}{74}\Sl{74}{1066}{76}\Sl{37}{1080}{82}\Sl{63}{1137}{71}
\Sl{32}{1141}{57}\Sl{59}{1208}{59}\Sl{24}{1198}{56}\Sl{20}{1244}{99}\Sl{64}{1255}{91}\Sl{49}{1324}{74}
\Sl{20}{1359}{99}\Sl{47}{1360}{74}
\end{tikzpicture}
\end{document}
